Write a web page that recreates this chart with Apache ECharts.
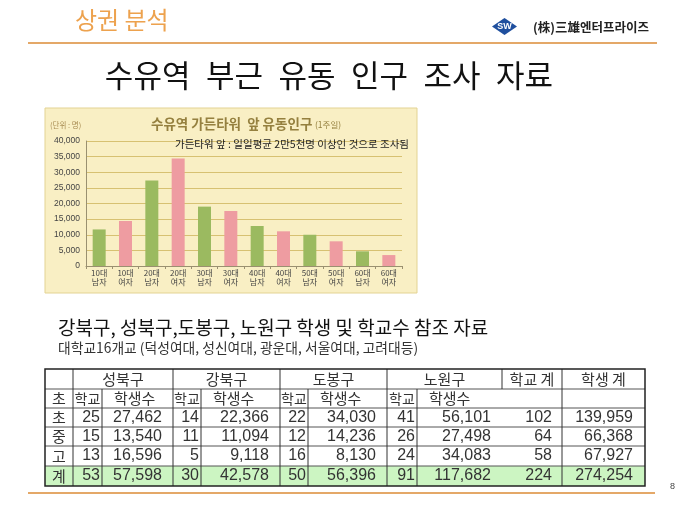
<!DOCTYPE html>
<html>
<head>
<meta charset="utf-8">
<script src="https://cdn.jsdelivr.net/npm/echarts@6/dist/echarts.min.js"></script>
<style>
  html, body { margin: 0; padding: 0; background: #fff; }
  #main { width: 680px; height: 510px; }
</style>
</head>
<body>
<div id="main"></div>
<script>
// 유동인구 (1주일)
const categories = ['10대\n남자', '10대\n여자', '20대\n남자', '20대\n여자', '30대\n남자', '30대\n여자',
                    '40대\n남자', '40대\n여자', '50대\n남자', '50대\n여자', '60대\n남자', '60대\n여자'];
const visitors = [11700, 14400, 27400, 34400, 19000, 17600, 12800, 11100, 10000, 7900, 4700, 3500];

// 학생 및 학교수 표
const districts = ['성북구', '강북구', '도봉구', '노원구'];
const levels = ['초', '중', '고', '계'];
const seongbukSchools = [25, 15, 13, 53];
const seongbukStudents = [27462, 13540, 16596, 57598];
const gangbukSchools = [14, 11, 5, 30];
const gangbukStudents = [22366, 11094, 9118, 42578];
const dobongSchools = [22, 12, 16, 50];
const dobongStudents = [34030, 14236, 8130, 56396];
const nowonSchools = [41, 26, 24, 91];
const nowonStudents = [56101, 27498, 34083, 117682];
const schoolTotals = [102, 64, 58, 224];
const studentTotals = [139959, 66368, 67927, 274254];

const KR = "'Noto Sans CJK KR', sans-serif";
const NUM = "'Liberation Sans', 'Noto Sans CJK KR', sans-serif";
const fmt = v => v.toLocaleString('en-US');

// table layout
const colX = [45, 73, 102, 173, 201, 280, 308, 387, 417, 502, 562, 645];
const rowY = [369, 389, 408, 427, 446, 466, 486];

function txt(text, x, y, size, opt) {
  opt = opt || {};
  return {
    type: 'text', silent: true, z: 10,
    style: {
      text: text, x: x, y: y,
      fontSize: size, fontFamily: opt.family || KR, fontWeight: opt.weight || 'normal',
      fill: opt.color || '#222', align: opt.align || 'left', verticalAlign: 'middle'
    }
  };
}
function line(x1, y1, x2, y2, color, w) {
  return { type: 'line', silent: true, z: 11, shape: { x1: x1, y1: y1, x2: x2, y2: y2 },
           style: { stroke: color, lineWidth: w } };
}

function buildTable() {
  const els = [];
  const top = rowY[0], bottom = rowY[rowY.length - 1];
  const left = colX[0], right = colX[colX.length - 1];
  const mid = (a, b) => (a + b) / 2;
  const rowMid = i => mid(rowY[i], rowY[i + 1]);

  // 계 row fill
  els.push({ type: 'rect', silent: true, z: 5,
    shape: { x: left, y: rowY[5], width: right - left, height: rowY[6] - rowY[5] },
    style: { fill: '#ccf5c2' } });

  // horizontal lines
  for (let i = 1; i < rowY.length - 1; i++) els.push(line(left, rowY[i], right, rowY[i], '#555', 1));
  // vertical lines
  [73, 173, 280, 387, 562].forEach(x => els.push(line(x, top, x, bottom, '#333', 1)));
  [102, 201, 308, 417].forEach(x => els.push(line(x, rowY[1], x, bottom, '#333', 1)));
  els.push(line(502, top, 502, rowY[1], '#333', 1));
  // outer border
  els.push({ type: 'rect', silent: true, z: 12,
    shape: { x: left, y: top, width: right - left, height: bottom - top },
    style: { fill: null, stroke: '#222', lineWidth: 1.5 } });

  // header row 1
  districts.forEach((d, k) => {
    els.push(txt(d, mid(colX[1 + 2 * k], colX[3 + 2 * k]), rowMid(0), 15, { align: 'center', color: '#333' }));
  });
  els.push(txt('학교 계', mid(colX[9], colX[10]), rowMid(0), 15, { align: 'center', color: '#333' }));
  els.push(txt('학생 계', mid(colX[10], colX[11]), rowMid(0), 15, { align: 'center', color: '#333' }));

  // header row 2
  els.push(txt('초', mid(colX[0], colX[1]), rowMid(1), 15, { align: 'center', color: '#333' }));
  districts.forEach((d, k) => {
    els.push(txt('학교', mid(colX[1 + 2 * k], colX[2 + 2 * k]), rowMid(1), 14, { align: 'center', color: '#333' }));
    els.push(txt('학생수', colX[2 + 2 * k] + 12, rowMid(1), 15, { color: '#333' }));
  });

  // data rows
  const schoolCols = [seongbukSchools, gangbukSchools, dobongSchools, nowonSchools];
  const studentCols = [seongbukStudents, gangbukStudents, dobongStudents, nowonStudents];
  levels.forEach((lv, r) => {
    const y = rowMid(r + 2);
    els.push(txt(lv, mid(colX[0], colX[1]), y, 15, { align: 'center', color: '#333' }));
    for (let k = 0; k < 4; k++) {
      els.push(txt(fmt(schoolCols[k][r]), colX[2 + 2 * k] - 2, y, 16, { align: 'right', family: NUM, color: '#333' }));
      els.push(txt(fmt(studentCols[k][r]), colX[3 + 2 * k] - 11, y, 16, { align: 'right', family: NUM, color: '#333' }));
    }
    els.push(txt(fmt(schoolTotals[r]), colX[10] - 10, y, 16, { align: 'right', family: NUM, color: '#333' }));
    els.push(txt(fmt(studentTotals[r]), colX[11] - 12, y, 16, { align: 'right', family: NUM, color: '#333' }));
  });
  return els;
}

const graphics = [
  // slide header
  txt('상권 분석', 75, 20, 24, { color: '#eda24e' }),
  line(28, 43, 657, 43, '#e4a868', 2),
  { type: 'polygon', silent: true, shape: { points: [[492, 26.5], [504.5, 18], [517, 26.5], [504.5, 35]] },
    style: { fill: '#1f4f9e' } },
  txt('SW', 504.5, 27, 9, { align: 'center', color: '#fff', weight: 'bold', family: NUM }),
  txt('(株)三雄엔터프라이즈', 533, 27, 12.5, { weight: 'bold', color: '#222' }),
  txt('수유역\u2002부근\u2002유동\u2002인구\u2002조사\u2002자료', 329, 75, 31, { align: 'center', color: '#111' }),

  // chart box
  { type: 'rect', silent: true, z: -10,
    shape: { x: 45, y: 108, width: 372, height: 185 },
    style: { fill: '#f9efc4', stroke: '#e3d393', lineWidth: 1 } },
  txt('(단위 : 명)', 50, 125, 7.5, { color: '#a88c52' }),
  txt('수유역 가든타워  앞 유동인구', 151, 124, 13.5, { weight: 'bold', color: '#95803f' }),
  txt('(1주일)', 315, 125, 8.5, { color: '#95803f' }),
  txt('가든타워 앞 : 일일평균 2만5천명 이상인 것으로 조사됨', 292, 144, 10.5, { align: 'center', color: '#222' }),

  // table captions
  txt('강북구, 성북구,도봉구, 노원구 학생 및 학교수 참조 자료', 58, 328, 19, { color: '#111' }),
  txt('대학교16개교 (덕성여대, 성신여대, 광운대, 서울여대, 고려대등)', 58, 348, 13.8, { color: '#333' }),

  // bottom line and page number
  line(28, 493, 655, 493, '#e4a868', 2),
  txt('8', 670, 487, 9, { color: '#444', family: NUM })
].concat(buildTable());

const chart = echarts.init(document.getElementById('main'));
chart.setOption({
  backgroundColor: '#fff',
  animation: false,
  grid: { left: 86, top: 141, width: 316, height: 125 },
  xAxis: {
    type: 'category',
    data: categories,
    axisLine: { lineStyle: { color: '#9a9070', width: 1 } },
    axisTick: { show: true, length: 3, lineStyle: { color: '#9a9070' } },
    axisLabel: { fontSize: 8, lineHeight: 8.5, color: '#444', fontFamily: KR, margin: 3 }
  },
  yAxis: {
    type: 'value',
    min: 0, max: 40000, interval: 5000,
    axisLine: { show: true, lineStyle: { color: '#9a9070', width: 1 } },
    axisTick: { show: false },
    axisLabel: { fontSize: 8.5, color: '#444', fontFamily: NUM, margin: 6, formatter: v => fmt(v) },
    splitLine: { lineStyle: { color: '#d7c172', width: 1 } }
  },
  series: [{
    type: 'bar',
    data: visitors,
    barWidth: 13,
    itemStyle: { color: p => (p.dataIndex % 2 === 0 ? '#9bba60' : '#ee9ca1') }
  }],
  graphic: graphics
});
</script>
</body>
</html>
